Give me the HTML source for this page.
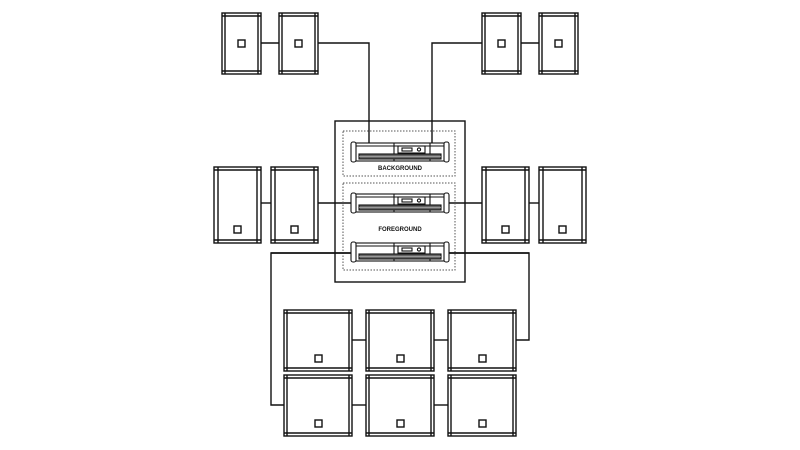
<!DOCTYPE html>
<html><head><meta charset="utf-8"><style>html,body{margin:0;padding:0;background:#fff}svg{display:block}</style></head>
<body>
<svg width="800" height="450" viewBox="0 0 800 450" xmlns="http://www.w3.org/2000/svg">
<defs>
<g id="spk" fill="none" stroke="#111" stroke-width="1.4">
<rect x="0" y="0" width="39" height="61" fill="#fff"/>
<line x1="3" y1="0" x2="3" y2="61"/><line x1="36" y1="0" x2="36" y2="61"/>
<line x1="0" y1="3" x2="39" y2="3"/><line x1="0" y1="58" x2="39" y2="58"/>
<rect x="16" y="27" width="7" height="7"/>
</g>
<g id="mid" fill="none" stroke="#111" stroke-width="1.4">
<rect x="0" y="0" width="47" height="76" fill="#fff"/>
<line x1="4" y1="0" x2="4" y2="76"/><line x1="43" y1="0" x2="43" y2="76"/>
<line x1="0" y1="3" x2="47" y2="3"/><line x1="0" y1="73" x2="47" y2="73"/>
<rect x="20" y="59" width="7" height="7"/>
</g>
<g id="sub" fill="none" stroke="#111" stroke-width="1.4">
<rect x="0" y="0" width="68" height="61" fill="#fff"/>
<line x1="3" y1="0" x2="3" y2="61"/><line x1="65" y1="0" x2="65" y2="61"/>
<line x1="0" y1="3" x2="68" y2="3"/><line x1="0" y1="58" x2="68" y2="58"/>
<rect x="31" y="45" width="7" height="7"/>
</g>
<g id="amp" fill="none" stroke="#111" stroke-width="1.1">
<rect x="0" y="0" width="96" height="18" fill="#fff"/>
<rect x="-1" y="-1" width="5" height="20" rx="2" fill="#fff"/>
<rect x="92" y="-1" width="5" height="20" rx="2" fill="#fff"/>
<line x1="4" y1="3" x2="92" y2="3"/>
<line x1="42" y1="0" x2="42" y2="18"/><line x1="78" y1="0" x2="78" y2="18"/>
<rect x="46" y="3" width="27" height="7"/>
<rect x="50" y="5" width="10" height="3"/>
<circle cx="67" cy="6.5" r="1.6"/>
<rect x="7" y="11" width="82" height="5" fill="#666" stroke="#111"/>
<line x1="7" y1="13.5" x2="89" y2="13.5" stroke="#ccc" stroke-width="0.6"/>
</g>
</defs>
<g fill="none" stroke="#111" stroke-width="1.4">
<polyline points="318,43 369,43 369,143"/>
<polyline points="482,43 432,43 432,143"/>
<line x1="261" y1="43" x2="279" y2="43"/>
<line x1="521" y1="43" x2="539" y2="43"/>
<line x1="261" y1="203" x2="271" y2="203"/>
<line x1="318" y1="203" x2="352" y2="203"/>
<line x1="448" y1="203" x2="482" y2="203"/>
<line x1="529" y1="203" x2="539" y2="203"/>
<polyline points="284,405 271,405 271,253 529,253 529,340 516,340"/>
<line x1="352" y1="340" x2="366" y2="340"/>
<line x1="434" y1="340" x2="448" y2="340"/>
<line x1="352" y1="405" x2="366" y2="405"/>
<line x1="434" y1="405" x2="448" y2="405"/>
<rect x="335" y="121" width="130" height="161"/>
</g>
<g fill="none" stroke="#555" stroke-width="1" stroke-dasharray="1.5,1.5">
<rect x="343" y="131" width="112" height="45"/>
<rect x="343" y="183" width="112" height="87"/>
</g>
<line x1="271" y1="253" x2="529" y2="253" stroke="#111" stroke-width="1.4"/>
<use href="#amp" x="352" y="143"/>
<use href="#amp" x="352" y="194"/>
<use href="#amp" x="352" y="243"/>
<text x="400" y="170" font-family="Liberation Sans, sans-serif" font-size="6" font-weight="bold" text-anchor="middle" fill="#111">BACKGROUND</text>
<text x="400" y="231" font-family="Liberation Sans, sans-serif" font-size="6" font-weight="bold" text-anchor="middle" fill="#111">FOREGROUND</text>
<use href="#spk" x="222" y="13"/>
<use href="#spk" x="279" y="13"/>
<use href="#spk" x="482" y="13"/>
<use href="#spk" x="539" y="13"/>
<use href="#mid" x="214" y="167"/>
<use href="#mid" x="271" y="167"/>
<use href="#mid" x="482" y="167"/>
<use href="#mid" x="539" y="167"/>
<use href="#sub" x="284" y="310"/>
<use href="#sub" x="366" y="310"/>
<use href="#sub" x="448" y="310"/>
<use href="#sub" x="284" y="375"/>
<use href="#sub" x="366" y="375"/>
<use href="#sub" x="448" y="375"/>
</svg>
</body></html>
